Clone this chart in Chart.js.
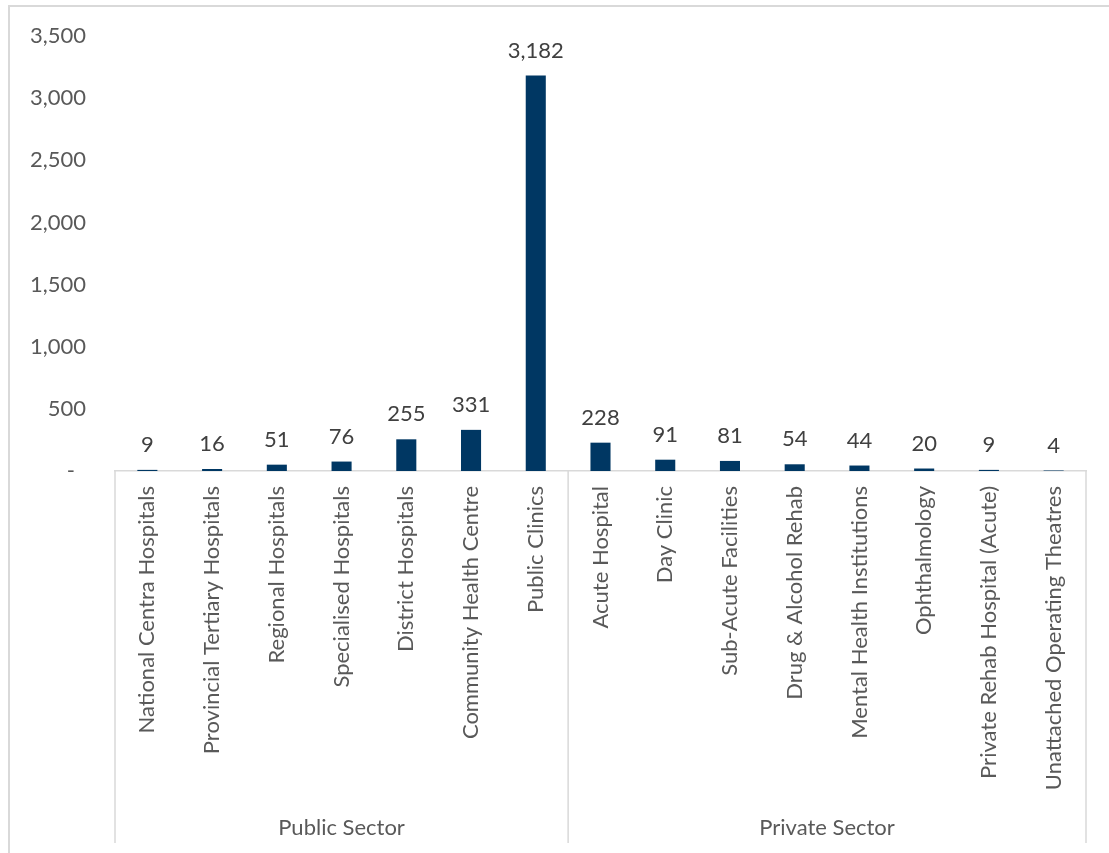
<!DOCTYPE html>
<html>
<head>
<meta charset="utf-8">
<script src="https://cdn.jsdelivr.net/npm/chart.js@4.4.0/dist/chart.umd.min.js"></script>
<style>
  html, body { margin: 0; padding: 0; background: #ffffff; }
  #wrap { position: relative; width: 1109px; height: 853px; }
</style>
</head>
<body>
<div id="wrap"><canvas id="c"></canvas></div>
<script>
const categories = [
  'National Centra Hospitals', 'Provincial Tertiary Hospitals', 'Regional Hospitals',
  'Specialised Hospitals', 'District Hospitals', 'Community Health Centre', 'Public Clinics',
  'Acute Hospital', 'Day Clinic', 'Sub-Acute Facilities', 'Drug & Alcohol Rehab',
  'Mental Health Institutions', 'Ophthalmology', 'Private Rehab Hospital (Acute)',
  'Unattached Operating Theatres'
];
const values = [9, 16, 51, 76, 255, 331, 3182, 228, 91, 81, 54, 44, 20, 9, 4];
const groupNames = ['Public Sector', 'Private Sector'];
const groupSizes = [7, 8];
const yMin = 0, yMax = 3500, yStep = 500;

const FONT = 'Lato, "Open Sans", sans-serif';
const LINE = '#d9d9d9';

const fmt = v => v === 0 ? '-\u2002' : v.toLocaleString('en-US');

const decor = {
  id: 'decor',
  beforeDraw(chart) {
    const ctx = chart.ctx;
    ctx.save();
    ctx.strokeStyle = LINE;
    ctx.lineWidth = 2;
    ctx.beginPath();
    ctx.moveTo(9, 2000); ctx.lineTo(9, 6); ctx.lineTo(2000, 6);
    ctx.stroke();
    ctx.restore();
  },
  afterDraw(chart) {
    const ctx = chart.ctx;
    const xs = chart.scales.x;
    const n = categories.length;
    const cw = xs.width / n;
    const top = chart.chartArea.bottom;
    const bottom = xs.bottom - 10;
    ctx.save();
    ctx.strokeStyle = LINE;
    ctx.lineWidth = 1.5;
    let idx = 0;
    const edges = [xs.getPixelForValue(0) - cw / 2];
    groupSizes.forEach(s => { idx += s; edges.push(xs.getPixelForValue(idx - 1) + cw / 2); });
    edges.forEach(e => {
      ctx.beginPath(); ctx.moveTo(e, top); ctx.lineTo(e, bottom); ctx.stroke();
    });
    ctx.fillStyle = '#595959';
    ctx.font = '22px ' + FONT;
    ctx.textAlign = 'center';
    ctx.textBaseline = 'middle';
    groupNames.forEach((g, i) => {
      ctx.fillText(g, (edges[i] + edges[i + 1]) / 2, xs.bottom - 25);
    });
    const meta = chart.getDatasetMeta(0);
    ctx.fillStyle = '#404040';
    ctx.textBaseline = 'alphabetic';
    meta.data.forEach((bar, i) => {
      ctx.fillText(fmt(values[i]), bar.x, bar.y - 18);
    });
    ctx.restore();
  }
};

new Chart(document.getElementById('c'), {
  type: 'bar',
  data: {
    labels: categories,
    datasets: [{
      data: values,
      backgroundColor: '#003763',
      borderWidth: 0,
      barPercentage: 0.31,
      categoryPercentage: 1.0
    }]
  },
  options: {
    responsive: true,
    maintainAspectRatio: false,
    animation: false,
    layout: { padding: { left: 10, right: 23, top: 36, bottom: 0 } },
    plugins: { legend: { display: false }, tooltip: { enabled: false } },
    scales: {
      x: {
        grid: { display: false, drawTicks: false },
        border: { display: true, color: LINE, width: 1.5 },
        ticks: {
          color: '#595959',
          font: { family: FONT, size: 22 },
          minRotation: 90, maxRotation: 90,
          autoSkip: false,
          padding: 15
        },
        afterFit(scale) { scale.height = 853 - 471; }
      },
      y: {
        min: yMin, max: yMax,
        grid: { display: false, drawTicks: false },
        border: { display: false },
        ticks: {
          stepSize: yStep,
          color: '#595959',
          font: { family: FONT, size: 22 },
          padding: 29,
          callback: v => fmt(v)
        },
        afterFit(scale) {
          scale.width = 115 - 10;
          scale.paddingTop = 0;
          scale.paddingBottom = 0;
        }
      }
    }
  },
  plugins: [decor]
});
</script>
</body>
</html>
